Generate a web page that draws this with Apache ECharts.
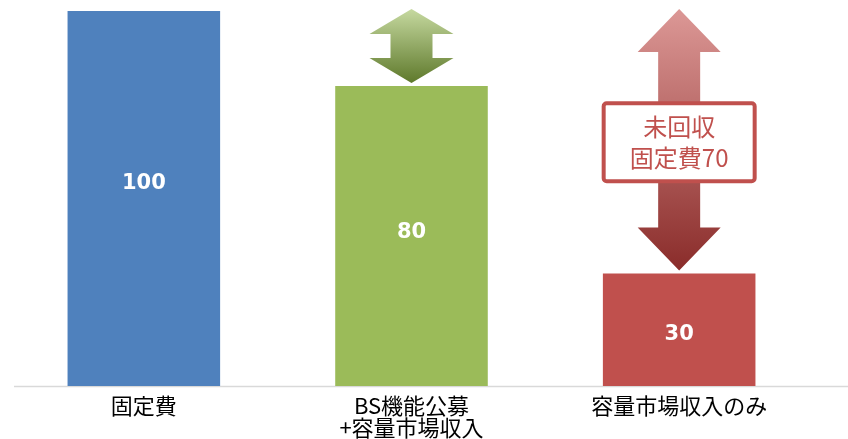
<!DOCTYPE html>
<html>
<head>
<meta charset="utf-8">
<script src="https://cdn.jsdelivr.net/npm/echarts@6/dist/echarts.min.js"></script>
<style>
html,body{margin:0;padding:0;background:#fff;}
#chart{width:848px;height:439px;}
</style>
</head>
<body>
<div id="chart"></div>
<script>
// ---- data ----
const categories = ['固定費', 'BS機能公募\n+容量市場収入', '容量市場収入のみ'];
const values = [100, 80, 30];
const barColors = ['#4f81bd', '#9bbb59', '#c0504d'];
// gap arrows: category index, from value, to value
const arrowCategory = [1, 2];
const arrowFrom = [100, 100];
const arrowTo = [80, 30];
const arrowLabel = ['', '未回収\n固定費70'];

// ---- styles ----
const labelOffsets = [[0, -15], [0, -3], [0, 5]];
const arrowStyles = [
  { headW: 84, shaftW: 42, headH: 25, top: '#c6d9a0', bottom: '#5e792b' },
  { headW: 83, shaftW: 42, headH: 43, top: '#dc9896', bottom: '#8a2c2a' }
];

const chart = echarts.init(document.getElementById('chart'), null, { renderer: 'canvas' });

const barData = values.map((v, i) => ({
  value: v,
  itemStyle: { color: barColors[i] },
  label: { offset: labelOffsets[i] }
}));

const arrowData = arrowCategory.map((c, i) => [c, arrowFrom[i], arrowTo[i], i]);

function renderArrow(params, api) {
  const idx = api.value(3);
  const st = arrowStyles[idx];
  const p1 = api.coord([api.value(0), api.value(1)]);
  const p2 = api.coord([api.value(0), api.value(2)]);
  const cx = p1[0];
  const top = p1[1] - 2;
  const bot = p2[1] - 3;
  const hw = st.headW / 2, sw = st.shaftW / 2, hh = st.headH;
  const pts = [
    [cx, top], [cx + hw, top + hh], [cx + sw, top + hh], [cx + sw, bot - hh],
    [cx + hw, bot - hh], [cx, bot], [cx - hw, bot - hh], [cx - sw, bot - hh],
    [cx - sw, top + hh], [cx - hw, top + hh]
  ];
  const children = [{
    type: 'polygon',
    shape: { points: pts },
    style: {
      fill: new echarts.graphic.LinearGradient(0, 0, 0, 1, [
        { offset: 0, color: st.top },
        { offset: 1, color: st.bottom }
      ])
    }
  }];
  const txt = arrowLabel[idx];
  if (txt) {
    const midY = (p1[1] + p2[1]) / 2;
    const w = 151, h = 78;
    children.push({
      type: 'rect',
      shape: { x: cx - w / 2, y: midY - h / 2, width: w, height: h, r: 3 },
      style: { fill: '#ffffff', stroke: '#c0504d', lineWidth: 4 }
    });
    children.push({
      type: 'text',
      x: cx, y: midY,
      style: {
        text: txt,
        fill: '#c0504d',
        font: '24px "Noto Sans CJK JP"',
        align: 'center',
        verticalAlign: 'middle',
        lineHeight: 31
      }
    });
  }
  return { type: 'group', children: children };
}

const option = {
  animation: false,
  grid: { left: 10, right: 35, top: 11, bottom: 51, containLabel: false },
  xAxis: {
    type: 'category',
    data: categories,
    axisLine: { show: false },
    axisTick: { show: false },
    axisLabel: {
      color: '#000',
      fontSize: 22,
      fontFamily: '"Noto Sans CJK JP"',
      lineHeight: 22,
      margin: 9,
      interval: 0
    }
  },
  yAxis: {
    type: 'value',
    min: 0, max: 100,
    show: false,
    splitLine: { show: false }
  },
  series: [
    {
      type: 'bar',
      data: barData,
      barWidth: '57%',
      label: {
        show: true,
        position: 'inside',
        color: '#fff',
        fontSize: 21,
        fontWeight: 'bold',
        fontFamily: '"DejaVu Sans"'
      },
      z: 2
    },
    {
      type: 'custom',
      data: arrowData,
      renderItem: renderArrow,
      z: 3
    }
  ]
};
chart.setOption(option);

// baseline (axis line) across full width at value 0
const y0 = chart.convertToPixel({ yAxisIndex: 0 }, 0);
chart.setOption({
  graphic: [{
    type: 'line',
    shape: { x1: 14, y1: Math.round(y0) + 0.5, x2: 848, y2: Math.round(y0) + 0.5 },
    style: { stroke: '#d9d9d9', lineWidth: 1.5 },
    z: 1
  }]
});
</script>
</body>
</html>
